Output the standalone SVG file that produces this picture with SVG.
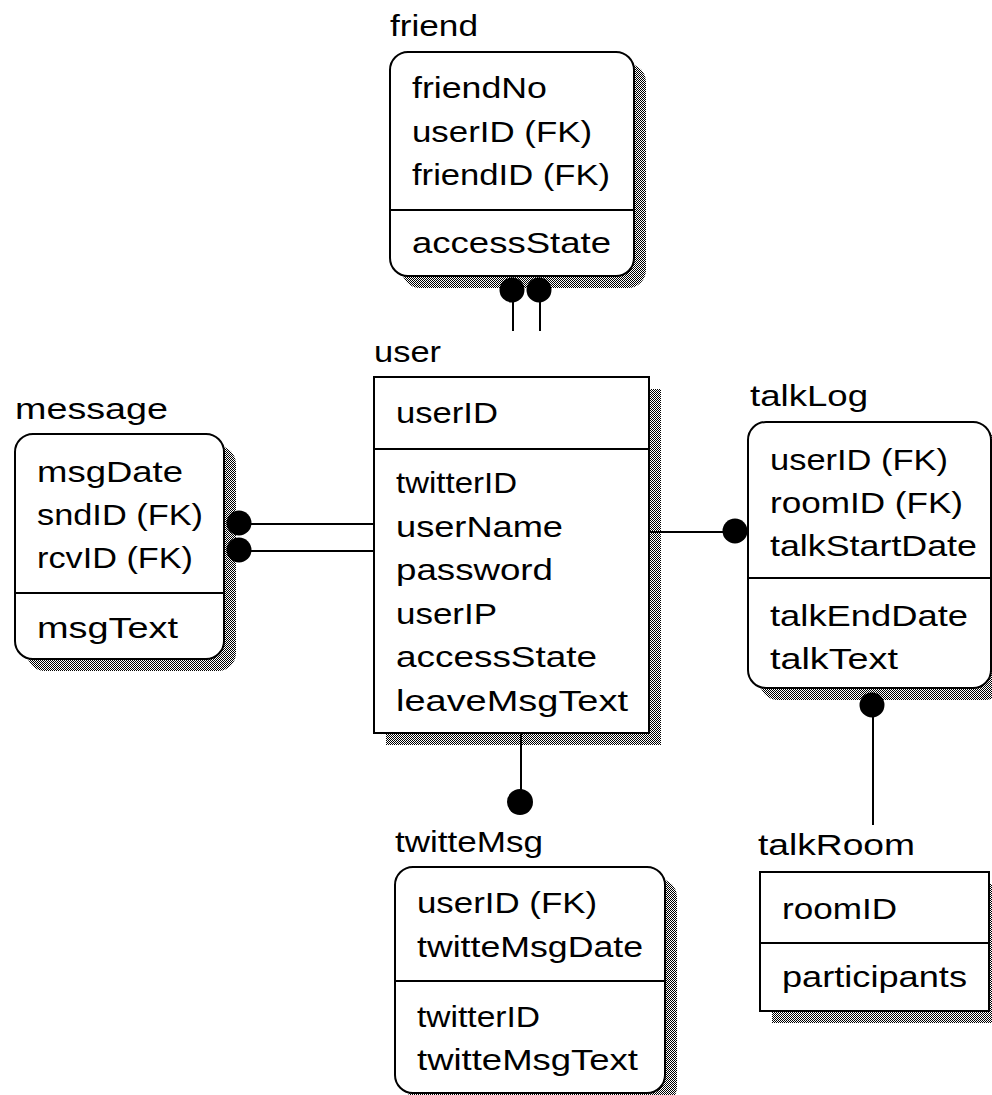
<svg xmlns="http://www.w3.org/2000/svg" width="992" height="1095" viewBox="0 0 992 1095">
<defs>
<pattern id="dither" width="2" height="2" patternUnits="userSpaceOnUse">
<rect width="2" height="2" fill="#fff"/>
<rect width="1" height="1" fill="#000"/>
<rect x="1" y="1" width="1" height="1" fill="#000"/>
</pattern>
</defs>
<style>
.t{font-family:"Liberation Sans",Arial,sans-serif;font-size:30px;fill:#000}
.box{fill:#fff;stroke:#000;stroke-width:2}
.sh{fill:url(#dither);stroke:none}
.div{stroke:#000;stroke-width:2}
.ln{stroke:#000;stroke-width:2;fill:none}
.dot{fill:#000}
</style>
<rect width="992" height="1095" fill="#fff"/>

<g id="friend">
<text class="t" x="390" y="36" textLength="88" lengthAdjust="spacingAndGlyphs">friend</text>
<rect class="sh" x="402" y="64" width="244" height="224" rx="18"/>
<rect class="box" x="390" y="52" width="244" height="224" rx="18"/>
<line class="div" x1="390" y1="210" x2="634" y2="210"/>
<text class="t" x="412" y="98" textLength="135" lengthAdjust="spacingAndGlyphs">friendNo</text>
<text class="t" x="412" y="142" textLength="180" lengthAdjust="spacingAndGlyphs">userID (FK)</text>
<text class="t" x="412" y="185" textLength="198" lengthAdjust="spacingAndGlyphs">friendID (FK)</text>
<text class="t" x="412" y="253" textLength="199" lengthAdjust="spacingAndGlyphs">accessState</text>
</g>

<g id="user">
<text class="t" x="374" y="362" textLength="67" lengthAdjust="spacingAndGlyphs">user</text>
<rect class="sh" x="386" y="389" width="275" height="356"/>
<rect class="box" x="374" y="377" width="275" height="356"/>
<line class="div" x1="374" y1="449" x2="649" y2="449"/>
<text class="t" x="396" y="423" textLength="102" lengthAdjust="spacingAndGlyphs">userID</text>
<text class="t" x="396" y="493" textLength="121" lengthAdjust="spacingAndGlyphs">twitterID</text>
<text class="t" x="396" y="537" textLength="167" lengthAdjust="spacingAndGlyphs">userName</text>
<text class="t" x="396" y="580" textLength="157" lengthAdjust="spacingAndGlyphs">password</text>
<text class="t" x="396" y="624" textLength="101" lengthAdjust="spacingAndGlyphs">userIP</text>
<text class="t" x="396" y="667" textLength="201" lengthAdjust="spacingAndGlyphs">accessState</text>
<text class="t" x="396" y="711" textLength="232" lengthAdjust="spacingAndGlyphs">leaveMsgText</text>
</g>

<g id="message">
<text class="t" x="15" y="419" textLength="153" lengthAdjust="spacingAndGlyphs">message</text>
<rect class="sh" x="27" y="446" width="209" height="225" rx="18"/>
<rect class="box" x="15" y="434" width="209" height="225" rx="18"/>
<line class="div" x1="15" y1="593" x2="224" y2="593"/>
<text class="t" x="37" y="482" textLength="146" lengthAdjust="spacingAndGlyphs">msgDate</text>
<text class="t" x="37" y="525" textLength="166" lengthAdjust="spacingAndGlyphs">sndID (FK)</text>
<text class="t" x="37" y="568" textLength="156" lengthAdjust="spacingAndGlyphs">rcvID (FK)</text>
<text class="t" x="37" y="638" textLength="141" lengthAdjust="spacingAndGlyphs">msgText</text>
</g>

<g id="talkLog">
<text class="t" x="750" y="406" textLength="118" lengthAdjust="spacingAndGlyphs">talkLog</text>
<rect class="sh" x="760" y="434" width="243" height="266" rx="18"/>
<rect class="box" x="748" y="422" width="243" height="266" rx="18"/>
<line class="div" x1="748" y1="578" x2="991" y2="578"/>
<text class="t" x="770" y="470" textLength="178" lengthAdjust="spacingAndGlyphs">userID (FK)</text>
<text class="t" x="770" y="513" textLength="193" lengthAdjust="spacingAndGlyphs">roomID (FK)</text>
<text class="t" x="770" y="556" textLength="207" lengthAdjust="spacingAndGlyphs">talkStartDate</text>
<text class="t" x="770" y="626" textLength="198" lengthAdjust="spacingAndGlyphs">talkEndDate</text>
<text class="t" x="770" y="669" textLength="128" lengthAdjust="spacingAndGlyphs">talkText</text>
</g>

<g id="twitteMsg">
<text class="t" x="395" y="852" textLength="148" lengthAdjust="spacingAndGlyphs">twitteMsg</text>
<rect class="sh" x="407" y="879" width="270" height="226" rx="18"/>
<rect class="box" x="395" y="867" width="270" height="226" rx="18"/>
<line class="div" x1="395" y1="981" x2="665" y2="981"/>
<text class="t" x="417" y="913" textLength="180" lengthAdjust="spacingAndGlyphs">userID (FK)</text>
<text class="t" x="417" y="957" textLength="226" lengthAdjust="spacingAndGlyphs">twitteMsgDate</text>
<text class="t" x="417" y="1027" textLength="123" lengthAdjust="spacingAndGlyphs">twitterID</text>
<text class="t" x="417" y="1070" textLength="221" lengthAdjust="spacingAndGlyphs">twitteMsgText</text>
</g>

<g id="talkRoom">
<text class="t" x="758" y="855" textLength="157" lengthAdjust="spacingAndGlyphs">talkRoom</text>
<rect class="sh" x="772" y="884" width="229" height="139"/>
<rect class="box" x="760" y="872" width="229" height="139"/>
<line class="div" x1="760" y1="943" x2="989" y2="943"/>
<text class="t" x="782" y="919" textLength="115" lengthAdjust="spacingAndGlyphs">roomID</text>
<text class="t" x="782" y="987" textLength="185" lengthAdjust="spacingAndGlyphs">participants</text>
</g>

<g id="connectors">
<line class="ln" x1="513" y1="290" x2="513" y2="331"/>
<line class="ln" x1="540" y1="290" x2="540" y2="331"/>
<circle class="dot" cx="512" cy="290" r="12.5"/>
<circle class="dot" cx="539" cy="290" r="12.5"/>
<line class="ln" x1="240" y1="524" x2="374" y2="524"/>
<line class="ln" x1="240" y1="551" x2="374" y2="551"/>
<circle class="dot" cx="239" cy="523" r="12.5"/>
<circle class="dot" cx="239" cy="550" r="12.5"/>
<line class="ln" x1="649" y1="532" x2="748" y2="532"/>
<circle class="dot" cx="735" cy="531" r="12.5"/>
<line class="ln" x1="521" y1="733" x2="521" y2="802"/>
<circle class="dot" cx="520" cy="802" r="13"/>
<line class="ln" x1="873" y1="705" x2="873" y2="825"/>
<circle class="dot" cx="872" cy="705" r="12.5"/>
</g>
</svg>
